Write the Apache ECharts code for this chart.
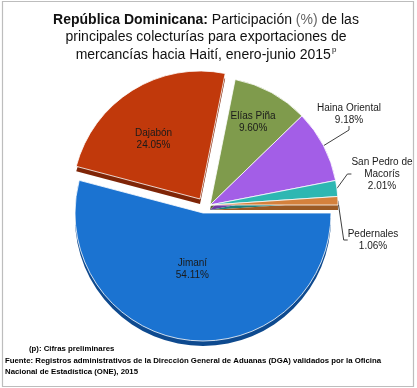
<!DOCTYPE html>
<html><head><meta charset="utf-8">
<script src="https://cdn.jsdelivr.net/npm/echarts@6/dist/echarts.min.js"></script>
<style>html,body{margin:0;padding:0;background:#fff}#c{width:417px;height:388px}</style>
</head><body><div id="c"></div>
<script>
const categories = ['Jimaní', 'Dajabón', 'Elías Piña', 'Haina Oriental', 'San Pedro de\nMacorís', 'Pedernales'];
const values = [54.11, 24.05, 9.60, 9.18, 2.01, 1.06];
const topColors = ['#1B73D1', '#C1390B', '#7F9B4C', '#A35EE7', '#2EB7B2', '#D4813C'];
const sideColors = ['#0E4A8F', '#7F2507', '#566B31', '#6D3BA3', '#1D7E7A', '#9B5A24'];
const outsideLabel = [false, false, false, true, true, true];

// layout (exploded pieces get their own centre)
const groups = [
  { items: [0], center: [203, 213] },
  { items: [1], center: [200, 199] },
  { items: [2, 3, 4, 5], center: [210, 205] }
];
const R = 128, DEPTH = 5;
// label placement tweaks (layout only)
const labelShift = { 0: [-2, -10], 1: [-11, -3], 2: [11, -24] };
const labelPos = { 3: [349, 114], 4: [382, 174], 5: [373, 240] };

const series = [];
groups.forEach(g => {
  const has = i => g.items.indexOf(i) >= 0;
  series.push({
    type: 'pie', silent: true, z: 1, startAngle: 0, clockwise: true,
    center: [g.center[0], g.center[1] + DEPTH], radius: [0, R],
    label: { show: false }, labelLine: { show: false }, animation: false,
    data: values.map((v, i) => ({ name: categories[i], value: v,
      itemStyle: { color: has(i) ? sideColors[i] : 'rgba(0,0,0,0)', borderWidth: 0 } }))
  });
  series.push({
    type: 'pie', silent: true, z: 2, startAngle: 0, clockwise: true,
    center: g.center, radius: [0, R], animation: false, avoidLabelOverlap: false,
    data: values.map((v, i) => ({ name: categories[i], value: v,
      itemStyle: has(i) ? { color: topColors[i], borderColor: '#fff', borderWidth: 0.8 }
                        : { color: 'rgba(0,0,0,0)', borderWidth: 0 },
      label: { show: has(i), position: outsideLabel[i] ? 'outside' : 'inside' },
      labelLine: { show: has(i) && outsideLabel[i], length: 8, length2: 4,
        lineStyle: { color: '#404040', width: 1 } } })),
    label: {
      fontFamily: 'Liberation Sans', fontSize: 10, color: '#1a1a1a', lineHeight: 12,
      align: 'center',
      formatter: p => p.name + '\n' + values[p.dataIndex].toFixed(2) + '%'
    },
    labelLayout: p => {
      const i = p.dataIndex;
      if (labelPos[i]) return { x: labelPos[i][0], y: labelPos[i][1], align: 'center', verticalAlign: 'middle' };
      if (labelShift[i]) return { dx: labelShift[i][0], dy: labelShift[i][1] };
      return {};
    }
  });
});

const chart = echarts.init(document.getElementById('c'), null, { renderer: 'canvas' });
const T = { fontFamily: 'Liberation Sans', fontSize: 14, color: '#111', lineHeight: 17.5, fontWeight: 'normal' };
chart.setOption({
  backgroundColor: '#fff',
  animation: false,
  title: {
    left: 201, top: 6, textAlign: 'center',
    text: '{b|República Dominicana:}{n| Participación }{g|(%)}{n| de las}\n{n|principales colecturías para exportaciones de}\n{n|mercancías hacia Haití, enero-junio 2015}{s|p}',
    textStyle: {
      fontWeight: 'normal',
      rich: {
        b: Object.assign({}, T, { fontWeight: 'bold' }),
        n: T,
        g: Object.assign({}, T, { color: '#666' }),
        s: Object.assign({}, T, { fontSize: 8, verticalAlign: 'top', padding: [0, 0, 6, 1] })
      }
    }
  },
  graphic: [
    { type: 'rect', shape: { x: 2.5, y: 1.5, width: 411, height: 385 }, style: { fill: 'none', stroke: '#bdbdbd', lineWidth: 1.2 }, z: 10 },
    { type: 'text', x: 29, y: 349, style: { text: '(p): Cifras preliminares', font: 'bold 7.8px "Liberation Sans"', fill: '#000', textVerticalAlign: 'middle' } },
    { type: 'text', x: 5, y: 361, style: { text: 'Fuente: Registros administrativos de la Dirección General de Aduanas (DGA) validados por la Oficina', font: 'bold 7.8px "Liberation Sans"', fill: '#000', textVerticalAlign: 'middle' } },
    { type: 'text', x: 5, y: 372, style: { text: 'Nacional de Estadística (ONE), 2015', font: 'bold 7.8px "Liberation Sans"', fill: '#000', textVerticalAlign: 'middle' } }
  ],
  series: series
});
</script></body></html>
